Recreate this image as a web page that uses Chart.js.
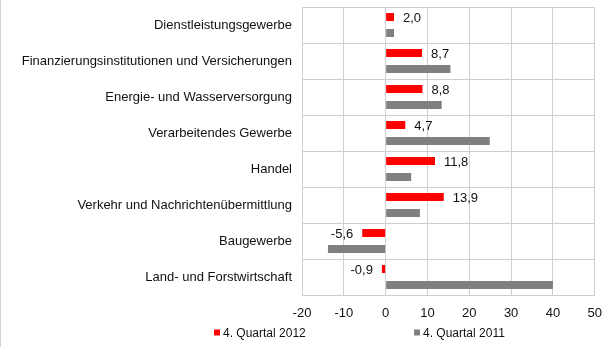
<!DOCTYPE html>
<html>
<head>
<meta charset="utf-8">
<script src="https://cdn.jsdelivr.net/npm/chart.js@4"></script>
<style>
  html, body { margin: 0; padding: 0; background: #fff; }
  #wrap { width: 613px; height: 347px; position: relative; }
</style>
</head>
<body>
<div id="wrap"><canvas id="chart" width="613" height="347"></canvas></div>
<script>
var categories = [
  "Dienstleistungsgewerbe",
  "Finanzierungsinstitutionen und Versicherungen",
  "Energie- und Wasserversorgung",
  "Verarbeitendes Gewerbe",
  "Handel",
  "Verkehr und Nachrichtenübermittlung",
  "Baugewerbe",
  "Land- und Forstwirtschaft"
];
var q4_2012 = [2.0, 8.7, 8.8, 4.7, 11.8, 13.9, -5.6, -0.9];
var q4_2011 = [2.0, 15.5, 13.4, 24.9, 6.1, 8.2, -13.8, 40.0];
var seriesNames = ["4. Quartal 2012", "4. Quartal 2011"];
var xTicks = [-20, -10, 0, 10, 20, 30, 40, 50];

var FONT = "'Liberation Sans', Arial, sans-serif";
var GRID = "#cfcfcf";

// value labels next to the 2012 bars, German decimal comma
var barLabels = {
  id: 'barLabels',
  afterDatasetsDraw: function(chart) {
    var ctx = chart.ctx;
    var meta = chart.getDatasetMeta(0);
    ctx.save();
    ctx.font = "13px " + FONT;
    ctx.fillStyle = "#111";
    ctx.textBaseline = "middle";
    meta.data.forEach(function(bar, i) {
      var v = q4_2012[i];
      var txt = v.toFixed(1).replace(".", ",");
      if (v >= 0) {
        ctx.textAlign = "left";
        ctx.fillText(txt, bar.x + 9, bar.y + 1);
      } else {
        ctx.textAlign = "right";
        ctx.fillText(txt, bar.x - 9, bar.y + 1);
      }
    });
    ctx.restore();
  }
};

// legend row under the axis plus the thin frame line on the left
var bottomLegend = {
  id: 'bottomLegend',
  afterDraw: function(chart) {
    var ctx = chart.ctx;
    ctx.save();
    ctx.strokeStyle = "#d4d4d4";
    ctx.lineWidth = 1;
    ctx.beginPath();
    ctx.moveTo(0.5, 0);
    ctx.lineTo(0.5, chart.height);
    ctx.stroke();

    var xs = [214, 414];
    ctx.font = "12px " + FONT;
    ctx.textBaseline = "middle";
    ctx.textAlign = "left";
    chart.data.datasets.forEach(function(ds, i) {
      ctx.fillStyle = ds.backgroundColor;
      ctx.fillRect(xs[i], 329.5, 6, 6);
      ctx.fillStyle = "#111";
      ctx.fillText(ds.label, xs[i] + 9, 334);
    });
    ctx.restore();
  }
};

var ctx = document.getElementById("chart").getContext('2d');
var chart = new Chart(ctx, {
  type: 'bar',
  data: {
    labels: categories,
    datasets: [{
      label: seriesNames[0],
      data: q4_2012,
      backgroundColor: "#ff0000"
    }, {
      label: seriesNames[1],
      data: q4_2011,
      backgroundColor: "#808080"
    }]
  },
  options: {
    indexAxis: 'y',
    responsive: false,
    animation: false,
    categoryPercentage: 0.89,
    barPercentage: 0.5,
    layout: { padding: { left: 0, right: 18, top: 7, bottom: 0 } },
    plugins: {
      legend: { display: false },
      tooltip: { enabled: false }
    },
    scales: {
      x: {
        min: -20,
        max: 50,
        afterBuildTicks: function(scale) {
          scale.ticks = xTicks.map(function(v) { return { value: v }; });
        },
        afterFit: function(scale) { scale.height = 52; },
        grid: { color: GRID, drawTicks: false },
        border: { color: GRID },
        ticks: {
          padding: 11,
          color: "#111",
          font: { family: FONT, size: 13 }
        }
      },
      y: {
        afterFit: function(scale) {
          scale.width = 302;
          scale.paddingTop = 0;
          scale.paddingBottom = 0;
        },
        grid: { color: GRID, drawTicks: false, offset: true },
        border: { color: GRID },
        ticks: {
          padding: 10,
          color: "#111",
          font: { family: FONT, size: 13 }
        }
      }
    }
  },
  plugins: [barLabels, bottomLegend]
});
</script>
</body>
</html>
